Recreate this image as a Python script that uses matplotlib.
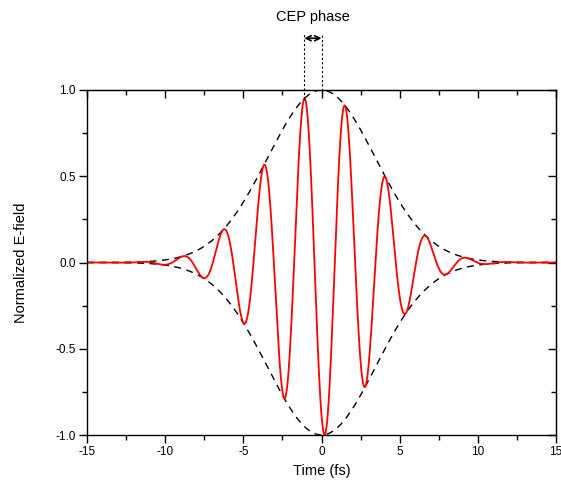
import matplotlib
matplotlib.use('Agg')
import matplotlib.pyplot as plt
import numpy as np

# pulse parameters
sigma = 3.45        # envelope width (fs), gaussian sigma
period = 2.6        # carrier period (fs)
peak_shift = -1.1   # position of nearest carrier crest (fs)
t = np.linspace(-15, 15, 3001)

envelope = np.exp(-t**2 / (2 * sigma**2))
field = envelope * np.cos(2 * np.pi * (t - peak_shift) / period)

plt.rcParams['font.family'] = ['Liberation Sans', 'DejaVu Sans']
plt.rcParams['axes.unicode_minus'] = False

fig = plt.figure(figsize=(5.61, 4.88), dpi=100)
ax = fig.add_axes([87 / 561, 1 - 435 / 488, 469 / 561, 345 / 488])

ax.plot(t, envelope, color='black', lw=1.0, ls=(0, (5, 4)))
ax.plot(t, -envelope, color='black', lw=1.0, ls=(0, (5, 4)))
ax.plot(t, field, color='red', lw=1.3)

ax.set_xlim(-15, 15)
ax.set_ylim(-1.0, 1.0)
ax.set_xticks([-15, -10, -5, 0, 5, 10, 15])
ax.set_xticks(np.arange(-12.5, 15, 5), minor=True)
ax.set_yticks([-1.0, -0.5, 0.0, 0.5, 1.0])
ax.set_yticks(np.arange(-0.75, 1.0, 0.5), minor=True)
ax.set_yticklabels(['-1.0', '-0.5', '0.0', '0.5', '1.0'])
ax.tick_params(which='both', direction='out', labelsize=8.5, width=1, pad=2)
ax.tick_params(which='major', length=6)
ax.tick_params(which='minor', length=3.5)

# mirrored inward ticks on top / right
top = ax.secondary_xaxis('top')
top.set_xticks(ax.get_xticks())
top.set_xticks(np.arange(-12.5, 15, 5), minor=True)
top.tick_params(which='both', direction='in', labeltop=False, width=1)
top.tick_params(which='major', length=6)
top.tick_params(which='minor', length=3.5)
right = ax.secondary_yaxis('right')
right.set_yticks([-1.0, -0.5, 0.0, 0.5, 1.0])
right.set_yticks(np.arange(-0.75, 1.0, 0.5), minor=True)
right.tick_params(which='both', direction='in', labelright=False, width=1)
right.tick_params(which='major', length=6)
right.tick_params(which='minor', length=3.5)

for sp in ax.spines.values():
    sp.set_linewidth(1.0)

ax.set_xlabel('Time (fs)', fontsize=10.5)
ax.set_ylabel('Normalized E-field', fontsize=10.5, va='center')
ax.xaxis.set_label_coords(0.5, -0.085)
ax.yaxis.set_label_coords(-0.141, 0.5)

# CEP phase marker
crest_val = np.interp(peak_shift, t, field)
ax.plot([peak_shift, peak_shift], [crest_val, 1.33], color='black', lw=0.8,
        ls=(0, (2, 2)), clip_on=False)
ax.plot([0, 0], [0.97, 1.33], color='black', lw=0.8, ls=(0, (2, 2)), clip_on=False)
ax.annotate('', xy=(0, 1.30), xytext=(peak_shift, 1.30),
            arrowprops=dict(arrowstyle='<->', lw=1.2, color='black',
                            shrinkA=0, shrinkB=0, mutation_scale=9),
            annotation_clip=False)
ax.text(peak_shift / 2, 1.38, 'CEP phase', ha='center', va='bottom', fontsize=10.5)

fig.savefig('out.png', dpi=100)
